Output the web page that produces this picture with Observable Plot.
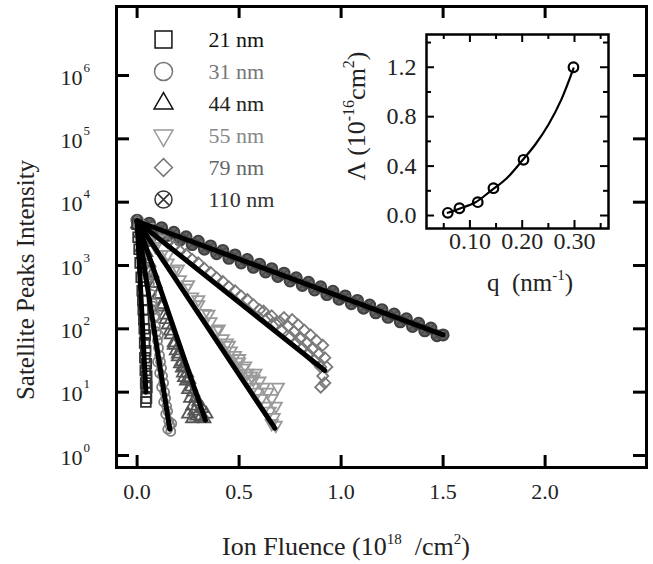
<!DOCTYPE html>
<html><head><meta charset="utf-8">
<script src="https://cdn.jsdelivr.net/npm/d3@7"></script>
<script src="https://cdn.jsdelivr.net/npm/@observablehq/plot@0.6"></script>
<style>
html,body{margin:0;padding:0;background:#fff;}
#chart{position:relative;width:653px;height:564px;overflow:hidden;background:#fff;}
#chart svg{position:absolute;}
</style></head><body><div id="chart"></div>
<script>
const FONT = "'Liberation Serif','Times New Roman',serif";

// ---------- data ----------
const seriesNames = ["21 nm", "31 nm", "44 nm", "55 nm", "79 nm", "110 nm"];

const s21 = [[0.00,4500],[0.005,2800],[0.01,1800],[0.015,1100],[0.02,650],[0.025,400],[0.028,280],[0.03,200],[0.033,140],[0.035,100],[0.04,80],[0.037,60],[0.042,45],[0.038,35],[0.045,28],[0.04,22],[0.047,18],[0.042,14],[0.048,12],[0.044,10],[0.046,8],[0.043,7]];
const s31 = [[0.00,4800],[0.01,3800],[0.02,2600],[0.03,1800],[0.04,1200],[0.05,800],[0.06,520],[0.07,350],[0.075,260],[0.08,200],[0.085,150],[0.09,110],[0.095,90],[0.10,65],[0.105,50],[0.11,38],[0.115,30],[0.12,24],[0.125,18],[0.10,30],[0.11,20],[0.12,12],[0.13,14],[0.135,10],[0.14,8],[0.13,7],[0.145,6],[0.15,5],[0.14,4.5],[0.155,3.5],[0.16,3],[0.15,2.6],[0.165,2.4],[0.17,3.2],[0.015,3000],[0.035,1500],[0.055,650],[0.075,230],[0.09,160],[0.105,80]];
const s44 = [[0.00,4500],[0.015,3200],[0.03,2300],[0.045,1600],[0.06,1100],[0.075,750],[0.09,520],[0.105,350],[0.12,240],[0.135,165],[0.15,115],[0.165,80],[0.18,55],[0.19,45],[0.20,36],[0.21,28],[0.22,30],[0.225,20],[0.23,25],[0.24,15],[0.245,20],[0.25,11],[0.255,16],[0.26,8],[0.265,12],[0.27,6],[0.275,10],[0.28,5],[0.285,8],[0.29,4.2],[0.30,7],[0.31,4],[0.32,5.5],[0.33,3.8],[0.34,4.5],[0.25,4.5],[0.27,3.8],[0.02,1900],[0.04,1250],[0.06,800],[0.08,520],[0.10,340],[0.12,220],[0.14,140],[0.16,92],[0.18,60],[0.20,40],[0.22,24],[0.23,17]];
const s55 = [[0.00,4800],[0.03,3700],[0.06,2700],[0.09,2000],[0.12,1500],[0.15,1100],[0.18,820],[0.21,600],[0.24,440],[0.27,320],[0.30,240],[0.33,175],[0.36,130],[0.39,95],[0.42,70],[0.44,60],[0.46,45],[0.48,38],[0.50,30],[0.52,24],[0.54,20],[0.55,15],[0.56,18],[0.57,12],[0.58,20],[0.59,10],[0.60,15],[0.61,8],[0.62,12],[0.63,6],[0.64,10],[0.65,5],[0.66,8],[0.67,4],[0.68,6],[0.66,3.2],[0.69,12],[0.68,3],[0.05,4000],[0.10,2600],[0.15,1500],[0.20,880],[0.25,500],[0.30,290],[0.35,170],[0.40,100],[0.45,55],[0.50,34],[0.53,26],[0.57,16]];
const s79 = [[0.00,5000],[0.03,4300],[0.06,3700],[0.09,3100],[0.12,2800],[0.15,2300],[0.18,2000],[0.21,1700],[0.24,1500],[0.27,1250],[0.30,1100],[0.33,900],[0.36,780],[0.39,640],[0.42,560],[0.45,460],[0.48,400],[0.51,330],[0.54,290],[0.57,240],[0.60,200],[0.62,190],[0.64,150],[0.66,160],[0.68,120],[0.70,130],[0.71,95],[0.72,150],[0.74,110],[0.75,75],[0.76,140],[0.77,90],[0.78,60],[0.79,115],[0.80,70],[0.81,50],[0.82,95],[0.83,60],[0.84,40],[0.85,80],[0.86,48],[0.87,32],[0.88,65],[0.89,40],[0.90,25],[0.91,55],[0.91,18],[0.92,35],[0.92,14],[0.90,12],[0.93,25]];
const s110 = [[0.00,5200],[0.03,4140],[0.06,4660],[0.09,3510],[0.12,3950],[0.15,2980],[0.18,3350],[0.21,2520],[0.24,2840],[0.27,2140],[0.30,2410],[0.33,1810],[0.36,2040],[0.39,1540],[0.42,1730],[0.45,1300],[0.48,1470],[0.51,1100],[0.54,1240],[0.57,936],[0.60,1050],[0.63,793],[0.66,892],[0.69,672],[0.72,757],[0.75,570],[0.78,641],[0.81,483],[0.84,543],[0.87,410],[0.90,461],[0.93,347],[0.96,391],[0.99,294],[1.02,331],[1.05,249],[1.08,281],[1.11,212],[1.14,238],[1.17,179],[1.20,201],[1.23,152],[1.26,171],[1.29,129],[1.32,144],[1.35,109],[1.38,122],[1.41,93],[1.44,103],[1.47,78],[1.50,80]];
const seriesPoints = [s21, s31, s44, s55, s79, s110];

const fitStartX = 0, fitStartY = 5000;
const fitEndX = [0.043, 0.16, 0.335, 0.675, 0.92, 1.5];
const fitEndY = [10, 2.6, 3.6, 2.7, 22, 80];

const xTicks = [0, 0.5, 1.0, 1.5, 2.0];
const yTicks = [1, 10, 100, 1e3, 1e4, 1e5, 1e6];

// inset
const qVals = [0.0577, 0.080, 0.115, 0.145, 0.2025, 0.298];
const lambdaVals = [0.022, 0.059, 0.108, 0.221, 0.451, 1.20];
const fitQ = [0.0577, 0.08, 0.11, 0.14, 0.17, 0.2, 0.225, 0.25, 0.275, 0.298];
const fitLambda = [0.022, 0.055, 0.105, 0.2, 0.3, 0.445, 0.575, 0.735, 0.94, 1.19];
const insetXMajor = [0.10, 0.20, 0.30];
const insetXMinor = [0.05, 0.15, 0.25, 0.35];
const insetYMajor = [0.0, 0.4, 0.8, 1.2];
const insetYMinor = [0.2, 0.6, 1.0, 1.4];

// ---------- styles ----------
const style = {
  "21 nm":  {symbol: "square",   r: 5.5, stroke: "#333", text: "#111", lr: 9.5, lstroke: "#111"},
  "31 nm":  {symbol: "circle",   r: 4.5, stroke: "#808080", text: "#777", lr: 9, lstroke: "#777"},
  "44 nm":  {symbol: "triangle", r: 4.5, stroke: "#555", text: "#222", lr: 7, lstroke: "#111"},
  "55 nm":  {symbol: "triangle", r: 4.5, stroke: "#9a9a9a", text: "#888", lr: 7, lstroke: "#999", rotate: 180},
  "79 nm":  {symbol: "diamond2", r: 5, stroke: "#7a7a7a", text: "#666", lr: 8, lstroke: "#777"},
  "110 nm": {symbol: "circle",   r: 5.5, stroke: "#404040", text: "#333", lr: 8.5, lstroke: "#333"}
};

const chart = document.getElementById("chart");

// ---------- main plot ----------
const W = 653, H = 564, mL = 116, mR = 7, mT = 6, mB = 97;
const fw = W - mL - mR, fh = H - mT - mB;

const marks = [];
const drawOrder = [5, 4, 3, 2, 1, 0];
for (const i of drawOrder) {
  const name = seriesNames[i];
  const st = style[name];
  const pts = seriesPoints[i].map(([x, y]) => ({x, y, name}));
  if (name === "110 nm") {
    marks.push(Plot.dot(pts, {x: "x", y: "y", symbol: "circle", r: st.r, stroke: st.stroke,
      strokeWidth: 2, fill: "#626262"}));
    marks.push(Plot.dot(pts, {x: "x", y: "y", symbol: "times", r: 3.5, stroke: "#4a4a4a", strokeWidth: 1.4}));
  } else {
    marks.push(Plot.dot(pts, {x: "x", y: "y", symbol: st.symbol, r: st.r, stroke: st.stroke,
      strokeWidth: 1.8, fill: "none", rotate: st.rotate || 0}));
  }
}
const fitLines = seriesNames.flatMap((name, i) => [
  {name, x: fitStartX, y: fitStartY},
  {name, x: fitEndX[i], y: fitEndY[i]}
]);
marks.push(Plot.line(fitLines, {x: "x", y: "y", z: "name", stroke: "black", strokeWidth: 5, strokeLinecap: "round"}));

// frame & inward ticks
marks.push(Plot.frame({stroke: "black", strokeWidth: 3}));
marks.push(Plot.tickX(xTicks, {x: d => d, insetTop: fh - 12, stroke: "black", strokeWidth: 3}));
marks.push(Plot.tickX(xTicks, {x: d => d, insetBottom: fh - 12, stroke: "black", strokeWidth: 3}));
marks.push(Plot.tickY(yTicks, {y: d => d, insetRight: fw - 13, stroke: "black", strokeWidth: 3}));
marks.push(Plot.tickY(yTicks, {y: d => d, insetLeft: fw - 13, stroke: "black", strokeWidth: 3}));
// tick labels
marks.push(Plot.text(xTicks, {x: d => d, frameAnchor: "bottom", dy: 31, text: d => d3.format(".1f")(d),
  fontSize: 22, fill: "#222", fontFamily: FONT}));
marks.push(Plot.text(yTicks, {y: d => d, frameAnchor: "left", dx: -34, dy: 2, text: () => "10",
  textAnchor: "end", fontSize: 22, fill: "#222", fontFamily: FONT}));
marks.push(Plot.text(yTicks, {y: d => d, frameAnchor: "left", dx: -33, dy: -8, text: d => String(Math.round(Math.log10(d))),
  textAnchor: "start", fontSize: 13, fill: "#222", fontFamily: FONT}));

const main = Plot.plot({
  width: W, height: H, marginLeft: mL, marginRight: mR, marginTop: mT, marginBottom: mB,
  x: {domain: [-0.101, 2.497], axis: null},
  y: {type: "log", domain: [0.646, 1.23e7], axis: null},
  style: {fontFamily: FONT, background: "transparent"},
  marks
});
main.style.left = "0px"; main.style.top = "0px";
chart.appendChild(main);

const ms = d3.select(main);
ms.append("text")
  .attr("transform", "translate(25,280) rotate(-90)")
  .attr("text-anchor", "middle").attr("dominant-baseline", "central")
  .style("font-family", FONT).attr("font-size", 25).attr("fill", "#222")
  .text("Satellite Peaks Intensity");
const xt = ms.append("text").attr("x", 346).attr("y", 555).attr("text-anchor", "middle")
  .style("font-family", FONT).attr("font-size", 26).attr("fill", "#222");
xt.append("tspan").text("Ion Fluence (10");
xt.append("tspan").attr("dy", -11).attr("font-size", 15).text("18");
xt.append("tspan").attr("dy", 11).text("\u2002/cm");
xt.append("tspan").attr("dy", -11).attr("font-size", 15).text("2");
xt.append("tspan").attr("dy", 11).text(")");

// ---------- inset ----------
const iLeft = 340, iTop = 10, iW = 282, iH = 300;
const imL = 426 - iLeft, imR = iLeft + iW - 608, imT = 34 - iTop, imB = iTop + iH - 228;
const ifw = iW - imL - imR, ifh = iH - imT - imB;
const inset = Plot.plot({
  width: iW, height: iH, marginLeft: imL, marginRight: imR, marginTop: imT, marginBottom: imB,
  x: {domain: [0.017, 0.365], axis: null},
  y: {domain: [-0.105, 1.465], axis: null},
  style: {fontFamily: FONT, background: "transparent"},
  marks: [
    Plot.frame({stroke: "black", strokeWidth: 2.5}),
    Plot.tickX(insetXMajor, {x: d => d, insetTop: ifh - 8, strokeWidth: 2}),
    Plot.tickX(insetXMajor, {x: d => d, insetBottom: ifh - 8, strokeWidth: 2}),
    Plot.tickX(insetXMinor, {x: d => d, insetTop: ifh - 5, strokeWidth: 2}),
    Plot.tickX(insetXMinor, {x: d => d, insetBottom: ifh - 5, strokeWidth: 2}),
    Plot.tickY(insetYMajor, {y: d => d, insetRight: ifw - 8, strokeWidth: 2}),
    Plot.tickY(insetYMajor, {y: d => d, insetLeft: ifw - 8, strokeWidth: 2}),
    Plot.tickY(insetYMinor, {y: d => d, insetRight: ifw - 5, strokeWidth: 2}),
    Plot.tickY(insetYMinor, {y: d => d, insetLeft: ifw - 5, strokeWidth: 2}),
    Plot.line(fitQ.map((q, i) => ({q, l: fitLambda[i]})), {x: "q", y: "l", curve: "catmull-rom", stroke: "black", strokeWidth: 2.2}),
    Plot.dot(qVals.map((q, i) => ({q, l: lambdaVals[i]})), {x: "q", y: "l", r: 4.8, stroke: "black", strokeWidth: 2.2, fill: "none"}),
    Plot.text(insetYMajor, {y: d => d, frameAnchor: "left", dx: -10, textAnchor: "end", text: d => d3.format(".1f")(d), fontSize: 24, fill: "#222", fontFamily: FONT}),
    Plot.text(insetXMajor, {x: d => d, frameAnchor: "bottom", dy: 20, text: d => d3.format(".2f")(d), fontSize: 24, fill: "#222", fontFamily: FONT})
  ]
});
inset.style.left = iLeft + "px"; inset.style.top = iTop + "px";
chart.appendChild(inset);
const is = d3.select(inset);
const ql = is.append("text").attr("x", 530 - iLeft).attr("y", 291 - iTop).attr("text-anchor", "middle")
  .style("font-family", FONT).attr("font-size", 25).attr("fill", "#222");
ql.append("tspan").text("q  (nm");
ql.append("tspan").attr("dy", -11).attr("font-size", 15).text("-1");
ql.append("tspan").attr("dy", 11).text(")");
const ll = is.append("text").attr("transform", `translate(${365 - iLeft},${116 - iTop}) rotate(-90)`)
  .attr("text-anchor", "middle").style("font-family", FONT).attr("font-size", 26).attr("fill", "#222");
ll.append("tspan").text("\u039B (10");
ll.append("tspan").attr("dy", -11).attr("font-size", 16).text("-16");
ll.append("tspan").attr("dy", 11).text("cm");
ll.append("tspan").attr("dy", -11).attr("font-size", 16).text("2");
ll.append("tspan").attr("dy", 11).text(")");

// ---------- legend ----------
const lLeft = 130, lTop = 10, lW = 200, lH = 220;
const legendMarks = [];
for (const name of seriesNames) {
  const st = style[name];
  legendMarks.push(Plot.dot([name], {y: d => d, frameAnchor: "left", dx: 33, symbol: st.symbol, r: st.lr,
    stroke: st.lstroke, rotate: st.rotate || 0, strokeWidth: 1.5, fill: "none"}));
  if (name === "110 nm") {
    legendMarks.push(Plot.dot([name], {y: d => d, frameAnchor: "left", dx: 33, symbol: "times", r: 5.2,
      stroke: st.lstroke, strokeWidth: 1.5}));
  }
  legendMarks.push(Plot.text([name], {y: d => d, frameAnchor: "left", dx: 78, text: d => d, textAnchor: "start",
    fill: st.text, fontSize: 22, fontFamily: FONT}));
}
const legend = Plot.plot({
  width: lW, height: lH, marginLeft: 0, marginRight: 0, marginTop: 28, marginBottom: 30,
  y: {type: "point", domain: seriesNames, padding: 0, axis: null},
  x: {axis: null},
  style: {fontFamily: FONT, background: "transparent"},
  marks: legendMarks
});
legend.style.left = lLeft + "px"; legend.style.top = lTop + "px";
chart.appendChild(legend);
</script></body></html>
